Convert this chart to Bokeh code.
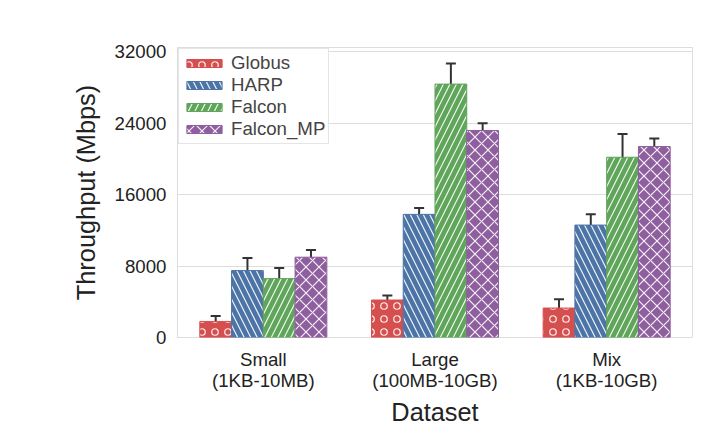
from bokeh.plotting import figure
from bokeh.models import ColumnDataSource, FactorRange, Whisker, Legend, LegendItem, FixedTicker
from bokeh.transform import dodge
from bokeh.embed import file_html
from bokeh.resources import INLINE

datasets = ["Small\n(1KB-10MB)", "Large\n(100MB-10GB)", "Mix\n(1KB-10GB)"]
tools = ["Globus", "HARP", "Falcon", "Falcon_MP"]
colors = ["#d64f4f", "#4c74a6", "#5fa55a", "#8e5e9e"]
hatches = ["ring", "left_diagonal_line", "right_diagonal_line", "diagonal_cross"]

means = {
    "Globus": [1800, 4200, 3300],
    "HARP": [7500, 13800, 12600],
    "Falcon": [6600, 28400, 20200],
    "Falcon_MP": [9000, 23200, 21400],
}
lows = {
    "Globus": [1300, 3800, 2400],
    "HARP": [6000, 13200, 11300],
    "Falcon": [5600, 26500, 17500],
    "Falcon_MP": [8300, 22200, 20700],
}
highs = {
    "Globus": [2400, 4700, 4300],
    "HARP": [8900, 14500, 13800],
    "Falcon": [7800, 30700, 22800],
    "Falcon_MP": [9800, 24000, 22300],
}

p = figure(x_range=FactorRange(*datasets, range_padding=0.0), y_range=(0, 32500),
           width=708, height=428, output_backend="svg", toolbar_location=None,
           min_border_left=177, min_border_right=16, min_border_top=47, min_border_bottom=80)
p.x_range.factor_padding = 0

bw = 0.185
items = []
for i, t in enumerate(tools):
    off = (i - 1.5) * bw
    src = ColumnDataSource(dict(x=datasets, top=means[t], lo=lows[t], hi=highs[t]))
    r = p.vbar(x=dodge("x", off, range=p.x_range), top="top", width=bw, source=src,
               fill_color=colors[i], line_color=colors[i], hatch_pattern=hatches[i],
               hatch_color="white", hatch_alpha=0.9, hatch_scale=13, hatch_weight=1.2)
    items.append(LegendItem(label=t, renderers=[r]))
    w = Whisker(base=dodge("x", off, range=p.x_range), lower="lo", upper="hi", source=src,
                line_color="#333333", line_width=2)
    for h in (w.upper_head, w.lower_head):
        h.size = 10
        h.line_color = "#333333"
        h.line_width = 2
    p.add_layout(w)

legend = Legend(items=items, location="top_left", label_text_font_size="14pt",
                label_text_font="Liberation Sans", border_line_color="#cccccc",
                glyph_width=44, glyph_height=10, spacing=0, padding=3, margin=1,
                label_height=15)
p.add_layout(legend)

p.yaxis.ticker = FixedTicker(ticks=[0, 8000, 16000, 24000, 32000])
p.xaxis.axis_label = "Dataset"
p.yaxis.axis_label = "Throughput (Mbps)"
for ax in (p.xaxis, p.yaxis):
    ax.axis_label_text_font = "Liberation Sans"
    ax.axis_label_text_font_style = "normal"
    ax.axis_label_text_font_size = "19pt"
    ax.axis_label_text_color = "#222222"
    ax.major_label_text_font = "Liberation Sans"
    ax.major_label_text_font_size = "14pt"
    ax.major_label_text_color = "#222222"
    ax.axis_line_color = None
    ax.major_tick_line_color = None
    ax.minor_tick_line_color = None
p.xaxis.major_label_text_line_height = 1.0
p.xaxis.axis_label_standoff = 4
p.yaxis.axis_label_standoff = 12
p.xgrid.grid_line_color = None
p.ygrid.grid_line_color = "#dddddd"
p.outline_line_color = "#dddddd"

open("out.html", "w").write(file_html(p, INLINE))
